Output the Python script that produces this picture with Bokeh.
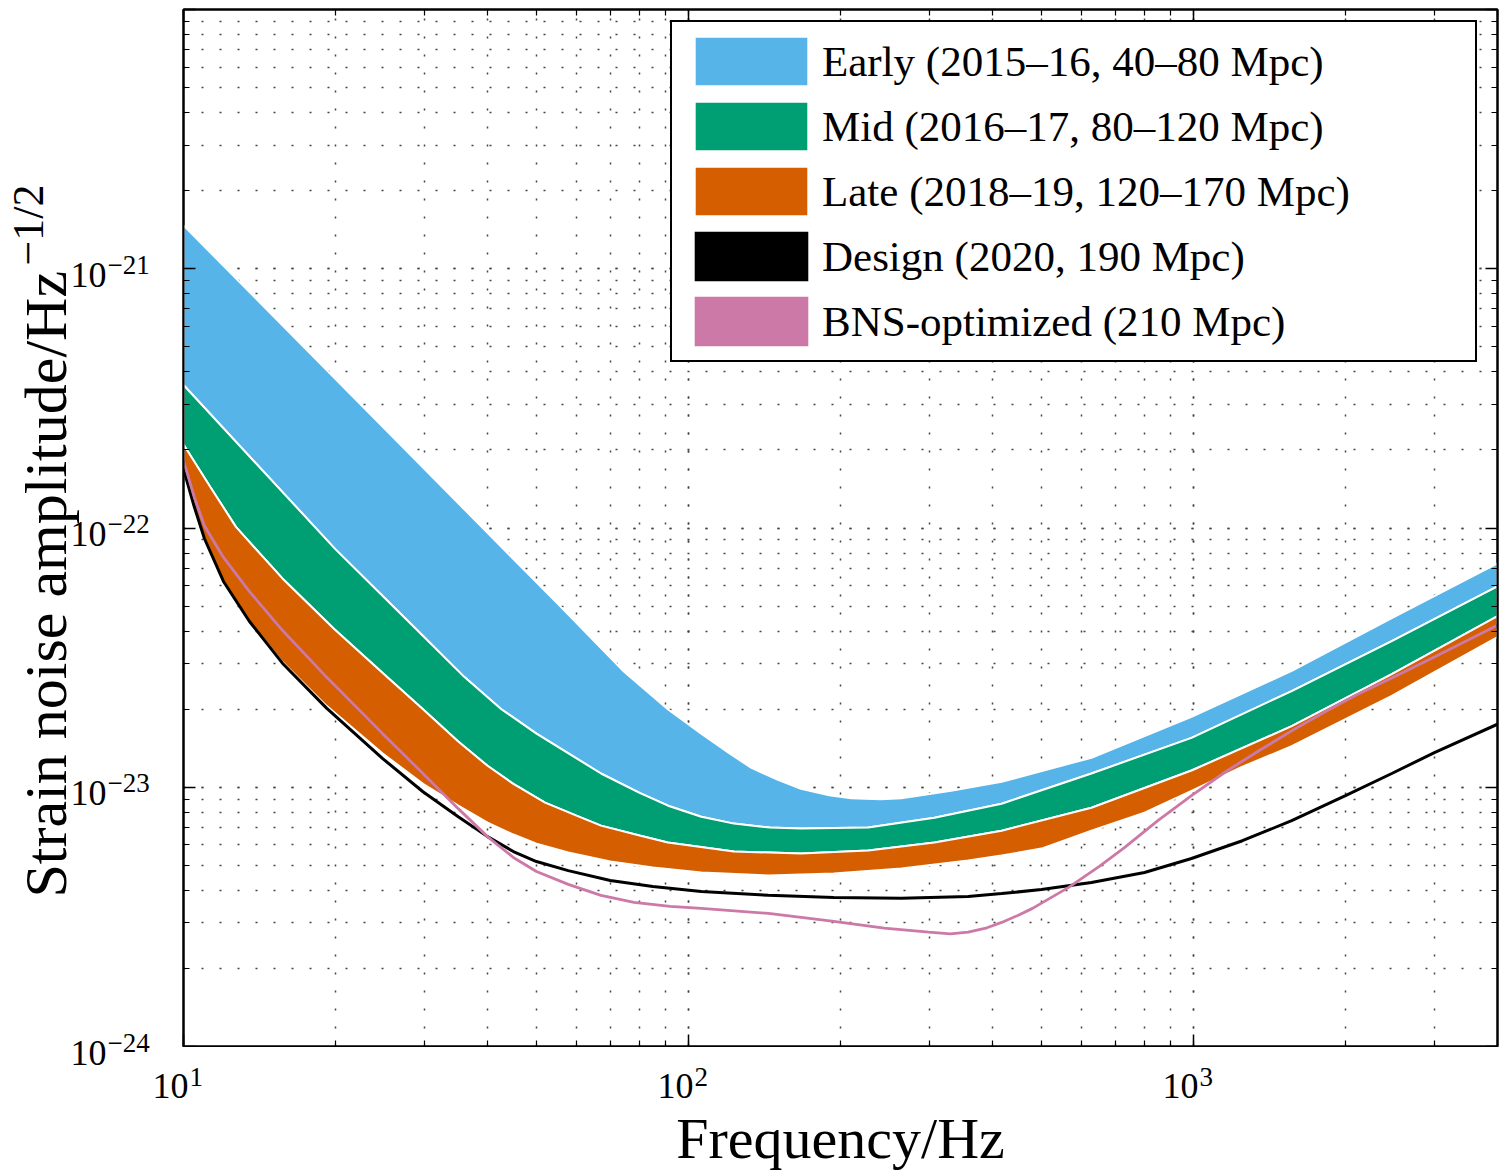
import numpy as np
from bokeh.plotting import figure
from bokeh.layouts import row, column
from bokeh.models import (LogAxis, CustomJSTickFormatter, Legend, LegendItem, Range1d, LogScale)
from bokeh.core.properties import value
from bokeh.embed import file_html
from bokeh.resources import INLINE

FONT = "Liberation Serif"

# ---------------- data ----------------
# Early band, upper edge (40 Mpc)
early_f = [10, 55, 67.1, 74, 80, 91, 106, 120, 133, 150, 167, 190, 210, 240, 264, 331, 417, 628,
           991, 1565, 2470, 4000]
early_h = [1.47e-21, 5.12e-23, 3.44e-23, 2.83e-23, 2.48e-23, 2.00e-23, 1.61e-23, 1.36e-23, 1.19e-23,
           1.07e-23, 9.87e-24, 9.32e-24, 9.07e-24, 8.99e-24, 9.07e-24, 9.69e-24, 1.05e-23, 1.30e-23,
           1.87e-23, 2.81e-23, 4.49e-23, 7.30e-23]

# Early/Mid boundary (80 Mpc)
mid_f = [10, 20, 28.9, 36, 42.6, 50, 67.1, 80, 91.1, 106, 123, 145, 167, 227, 307, 417, 628, 991,
         1565, 2470, 4000]
mid_h = [3.56e-22, 8.27e-23, 4.07e-23, 2.66e-23, 2.00e-23, 1.61e-23, 1.13e-23, 9.52e-24, 8.49e-24,
         7.70e-24, 7.24e-24, 6.99e-24, 6.93e-24, 6.99e-24, 7.63e-24, 8.64e-24, 1.13e-23, 1.55e-23,
         2.35e-23, 3.66e-23, 5.96e-23]

# Mid/Late boundary (120 Mpc)
late_f = [10, 11.3, 12.7, 15.7, 19.9, 24.8, 29.8, 35, 40, 45, 52, 60, 67.1, 80, 91, 123, 167, 227,
          307, 417, 628, 991, 1565, 2470, 4000]
late_h = [2.10e-22, 1.44e-22, 1.01e-22, 6.39e-23, 4.07e-23, 2.76e-23, 2.00e-23, 1.50e-23, 1.21e-23,
          1.03e-23, 8.72e-24, 7.77e-24, 7.11e-24, 6.51e-24, 6.12e-24, 5.65e-24, 5.55e-24, 5.70e-24,
          6.12e-24, 6.80e-24, 8.34e-24, 1.16e-23, 1.72e-23, 2.73e-23, 4.57e-23]

# Late band, lower edge (170 Mpc)
low_f = [10, 10.5, 11, 12, 13.5, 15.7, 19.2, 24.8, 29.8, 35, 40, 45, 50, 57.8, 70, 85, 106, 144,
         194, 264, 358, 417, 500, 628, 800, 991, 1250, 1565, 2000, 2470, 3000, 4000]
low_h = [1.69e-22, 1.21e-22, 9.11e-23, 6.22e-23, 4.37e-23, 3.04e-23, 2.06e-23, 1.35e-23, 1.03e-23,
         8.49e-24, 7.30e-24, 6.57e-24, 6.06e-24, 5.60e-24, 5.17e-24, 4.90e-24, 4.69e-24, 4.57e-24,
         4.65e-24, 4.86e-24, 5.22e-24, 5.45e-24, 5.80e-24, 6.80e-24, 7.98e-24, 9.69e-24, 1.20e-23,
         1.44e-23, 1.83e-23, 2.25e-23, 2.78e-23, 3.79e-23]

# Design (2020, 190 Mpc)
design_f = [10, 10.5, 11, 12, 13.5, 15.7, 19.2, 24.8, 29.8, 35, 40, 45, 50, 57.8, 70, 85, 106, 144,
            194, 264, 358, 417, 500, 628, 800, 991, 1250, 1565, 2000, 2470, 3000, 4000]
design_h = [1.69e-22, 1.21e-22, 9.11e-23, 6.22e-23, 4.37e-23, 3.01e-23, 2.02e-23, 1.29e-23, 9.61e-24,
            7.70e-24, 6.45e-24, 5.65e-24, 5.17e-24, 4.77e-24, 4.37e-24, 4.14e-24, 3.96e-24, 3.83e-24,
            3.76e-24, 3.73e-24, 3.79e-24, 3.89e-24, 4.03e-24, 4.29e-24, 4.69e-24, 5.31e-24, 6.22e-24,
            7.43e-24, 9.28e-24, 1.13e-23, 1.36e-23, 1.75e-23]

# BNS-optimized (210 Mpc)
bns_f = [10, 10.5, 11, 12, 13.5, 15.7, 19.2, 24.8, 29.8, 35, 40, 45, 50, 57.8, 67.1, 78, 92, 106,
         144, 194, 244, 299, 330, 358, 390, 417, 450, 480, 566, 650, 730, 850, 991, 1160, 1345, 1565,
         1818, 2100, 2470, 3000, 4000]
bns_h = [1.82e-22, 1.32e-22, 1.02e-22, 7.70e-23, 5.70e-23, 4.03e-23, 2.66e-23, 1.61e-23, 1.13e-23,
         8.27e-24, 6.45e-24, 5.36e-24, 4.73e-24, 4.22e-24, 3.83e-24, 3.60e-24, 3.47e-24, 3.41e-24,
         3.26e-24, 3.04e-24, 2.86e-24, 2.76e-24, 2.72e-24, 2.76e-24, 2.87e-24, 3.01e-24, 3.21e-24,
         3.41e-24, 4.11e-24, 4.94e-24, 5.85e-24, 7.43e-24, 9.28e-24, 1.15e-23, 1.38e-23, 1.65e-23,
         1.95e-23, 2.27e-23, 2.64e-23, 3.18e-23, 4.22e-23]

labels = ["Early (2015–16, 40–80 Mpc)", "Mid (2016–17, 80–120 Mpc)", "Late (2018–19, 120–170 Mpc)",
          "Design (2020, 190 Mpc)", "BNS-optimized (210 Mpc)"]
colors = ["#56B4E9", "#009E73", "#D55E00", "#000000", "#CC79A7"]

x_ticks = [10, 100, 1000]
x_exps = ["1", "2", "3"]
y_ticks = [1e-21, 1e-22, 1e-23, 1e-24]
y_exps = ["\u221221", "\u221222", "\u221223", "\u221224"]

X0, X1 = 10, 4000
Y0, Y1 = 1e-24, 1e-20

# ---------------- page geometry (pixels) ----------------
W, H = 1504, 1175
LEFT_W = 151                 # full-height strip with y tick labels and y title
TOP_H = 1047                 # height of the plot (the x labels strip sits below it)
FL, FR, FT, FB = 183, 1497, 9, 1046   # plot frame edges on the page


def no_align(f):
    if "frame_align" in f.properties():
        f.frame_align = False


# ---------------- main plot ----------------
p = figure(width=W - LEFT_W, height=TOP_H, x_axis_type="log", y_axis_type="log",
           x_range=Range1d(X0, X1), y_range=Range1d(Y0, Y1),
           output_backend="svg", toolbar_location=None,
           min_border_left=FL - LEFT_W, min_border_right=W - FR,
           min_border_top=FT, min_border_bottom=TOP_H - FB)
no_align(p)
p.background_fill_color = "white"
p.border_fill_color = "white"
p.outline_line_color = "black"
p.outline_line_width = 2

xax = p.below[0]
yax = p.left[0]
xax.ticker.num_minor_ticks = 10
yax.ticker.num_minor_ticks = 10
blank = "return '';"


def style_axis(ax):
    ax.formatter = CustomJSTickFormatter(code=blank)
    ax.major_label_text_font_size = "0px"
    ax.major_label_standoff = 0
    ax.major_tick_in = 12
    ax.major_tick_out = 0
    ax.minor_tick_in = 6
    ax.minor_tick_out = 0
    ax.axis_line_width = 2
    ax.major_tick_line_width = 1.5
    ax.minor_tick_line_width = 1.2


style_axis(xax)
style_axis(yax)
top = LogAxis(ticker=xax.ticker)
right = LogAxis(ticker=yax.ticker)
style_axis(top)
style_axis(right)
p.add_layout(top, "above")
p.add_layout(right, "right")

for g in (p.xgrid[0], p.ygrid[0]):
    g.grid_line_color = "#444444"
    g.grid_line_dash = "2 16"
    g.grid_line_width = 1.5
    g.minor_grid_line_color = "#444444"
    g.minor_grid_line_dash = "2 16"
    g.minor_grid_line_width = 1.5


def band(uf, uh, lf, lh, color):
    xs = list(uf) + list(lf)[::-1]
    ys = list(uh) + list(lh)[::-1]
    return p.patch(xs, ys, fill_color=color, line_color="white", line_width=2)


r_early = band(early_f, early_h, mid_f, mid_h, colors[0])
r_mid = band(mid_f, mid_h, late_f, late_h, colors[1])
r_late = band(late_f, late_h, low_f, low_h, colors[2])
p.line(design_f, design_h, line_color=colors[3], line_width=3)
p.line(bns_f, bns_h, line_color=colors[4], line_width=2.8)

# legend swatches for the two curves (filled boxes, as in the reference): zero-area patches
r_design_sw = p.patch([design_f[0]] * 3, [design_h[0]] * 3, fill_color=colors[3], line_color=None)
r_bns_sw = p.patch([bns_f[0]] * 3, [bns_h[0]] * 3, fill_color=colors[4], line_color=None)

legend = Legend(items=[LegendItem(label=labels[0], renderers=[r_early]),
                       LegendItem(label=labels[1], renderers=[r_mid]),
                       LegendItem(label=labels[2], renderers=[r_late]),
                       LegendItem(label=labels[3], renderers=[r_design_sw]),
                       LegendItem(label=labels[4], renderers=[r_bns_sw])],
                location=(670 - FL, FB - 362), orientation="vertical",
                glyph_width=142, glyph_height=62, label_standoff=0,
                label_width=645, label_height=62, spacing=3, padding=8, margin=0,
                label_text_font=FONT, label_text_font_size="43px", label_text_color="black",
                border_line_color="black", border_line_width=2, border_line_alpha=1,
                background_fill_color="white", background_fill_alpha=1)
p.add_layout(legend)

# ---------------- left strip (full height): y tick labels and y title ----------------
dec_y = (FB - FT) / (np.log10(Y1) - np.log10(Y0))     # pixels per decade
yl = figure(width=LEFT_W, height=H, x_axis_type=None, y_axis_type=None,
            x_range=Range1d(0, LEFT_W),
            y_range=Range1d(10 ** (np.log10(Y0) - (H - FB) / dec_y),
                            10 ** (np.log10(Y1) + FT / dec_y)),
            output_backend="svg", toolbar_location=None,
            min_border_left=0, min_border_right=0, min_border_top=0, min_border_bottom=0)
no_align(yl)
yl.y_scale = LogScale()
yl.outline_line_color = None
yl.background_fill_color = "white"
yl.border_fill_color = "white"

yl.text(x=[106] * len(y_ticks), y=y_ticks, text=["10"] * len(y_ticks), y_offset=6,
        text_font=value(FONT), text_font_size=value("36px"), text_color="black",
        text_align="right", text_baseline="alphabetic")
yl.text(x=[107] * len(y_ticks), y=y_ticks, text=y_exps, y_offset=-4,
        text_font=value(FONT), text_font_size=value("27px"), text_color="black",
        text_align="left", text_baseline="alphabetic")


def ypage(py):
    """value on the left strip's log axis that sits at page pixel row py"""
    return 10 ** (np.log10(Y1) - (py - FT) / dec_y)


yl.text(x=[45], y=[ypage(897)], text=["Strain noise amplitude/Hz"], angle=np.pi / 2,
        text_font=value(FONT), text_font_size=value("60px"), text_color="black",
        text_align="left", text_baseline="alphabetic")
yl.text(x=[28], y=[ypage(265)], text=["\u22121/2"], angle=np.pi / 2,
        text_font=value(FONT), text_font_size=value("44px"), text_color="black",
        text_align="left", text_baseline="alphabetic")

# ---------------- bottom strip: x tick labels and x title ----------------
dec_x = (FR - FL) / (np.log10(X1) - np.log10(X0))
xb = figure(width=W - LEFT_W, height=H - TOP_H, x_axis_type=None, y_axis_type=None,
            x_range=Range1d(10 ** (np.log10(X0) - (FL - LEFT_W) / dec_x),
                            10 ** (np.log10(X1) + (W - FR) / dec_x)),
            y_range=Range1d(H, TOP_H),
            output_backend="svg", toolbar_location=None,
            min_border_left=0, min_border_right=0, min_border_top=0, min_border_bottom=0)
no_align(xb)
xb.x_scale = LogScale()
xb.outline_line_color = None
xb.background_fill_color = "white"
xb.border_fill_color = "white"

xb.text(x=x_ticks, y=[1085] * len(x_ticks), text=["10"] * len(x_ticks), x_offset=5,
        text_font=value(FONT), text_font_size=value("36px"), text_color="black",
        text_align="right", text_baseline="alphabetic")
xb.text(x=x_ticks, y=[1076] * len(x_ticks), text=x_exps, x_offset=6,
        text_font=value(FONT), text_font_size=value("27px"), text_color="black",
        text_align="left", text_baseline="alphabetic")
xb.text(x=[np.sqrt(X0 * X1)], y=[1138], text=["Frequency/Hz"],
        text_font=value(FONT), text_font_size=value("58px"), text_color="black",
        text_align="center", text_baseline="alphabetic")

layout = row(yl, column(p, xb))
open("out.html", "w").write(file_html(layout, INLINE))
